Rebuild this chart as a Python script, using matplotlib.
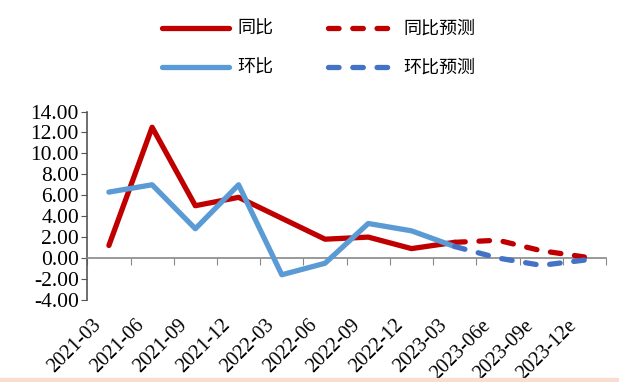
import matplotlib.pyplot as plt
import numpy as np
from matplotlib.lines import Line2D
from matplotlib.patches import Rectangle
from matplotlib.transforms import blended_transform_factory

plt.rcParams['font.family'] = ['Liberation Serif', 'Noto Sans CJK SC']

quarters = ['2021-03', '2021-06', '2021-09', '2021-12', '2022-03', '2022-06',
            '2022-09', '2022-12', '2023-03', '2023-06e', '2023-09e', '2023-12e']
# 同比 (actual up to 2023-03, forecast afterwards)
yoy = [1.2, 12.5, 5.0, 5.8, 3.8, 1.8, 2.0, 0.9, 1.5, 1.7, 0.7, 0.1]
# 环比
qoq = [6.3, 7.0, 2.8, 7.0, -1.6, -0.5, 3.3, 2.6, 1.1, 0.0, -0.7, -0.2]
n_actual = 9  # first 9 points are actual data

red = '#C00000'
blue = '#5B9BD5'
blue_fc = '#4472C4'
lw = 3.8
dash = (0, (2.0, 2.6))

fig = plt.figure(figsize=(6.19, 3.82), dpi=100)
ax = fig.add_axes([0.141, 0.215, 0.838, 0.493])

x = np.arange(len(quarters))
a = n_actual
ax.plot(x[:a], yoy[:a], color=red, lw=lw, solid_capstyle='round', zorder=3)
ax.plot(x[a - 1:], yoy[a - 1:], color=red, lw=lw, ls=dash,
        dash_capstyle='round', zorder=3)
ax.plot(x[:a], qoq[:a], color=blue, lw=lw, solid_capstyle='round', zorder=4)
ax.plot(x[a - 1:], qoq[a - 1:], color=blue_fc, lw=lw, ls=dash,
        dash_capstyle='round', zorder=4)

ax.set_xlim(-0.5, len(quarters) - 0.5)
ax.set_ylim(-4, 14)
ax.set_yticks(np.arange(-4, 15, 2))
ax.set_yticklabels(['%.2f' % v for v in np.arange(-4, 15, 2)], fontsize=15.5)

for s in ['top', 'right']:
    ax.spines[s].set_visible(False)
ax.spines['bottom'].set_position(('data', 0))
ax.spines['left'].set_color('#555555')
ax.spines['bottom'].set_color('#888888')
ax.spines['left'].set_linewidth(1.2)
ax.spines['bottom'].set_linewidth(1.2)
ax.tick_params(axis='y', direction='out', length=4, color='#555555', pad=2)
ax.set_xticks(np.arange(-0.5, len(quarters), 1.0))
ax.tick_params(axis='x', direction='out', length=5, color='#888888',
               labelbottom=False)

trans = blended_transform_factory(ax.transData, ax.transAxes)
for i, q in enumerate(quarters):
    ax.text(i - 0.4, -0.085, q, transform=trans, rotation=45, ha='right',
            va='top', rotation_mode='anchor', fontsize=14.5)

handles = [Line2D([], [], color=red, lw=lw, solid_capstyle='round'),
           Line2D([], [], color=blue, lw=lw, solid_capstyle='round'),
           Line2D([], [], color=red, lw=lw, ls=dash, dash_capstyle='round'),
           Line2D([], [], color=blue_fc, lw=lw, ls=dash, dash_capstyle='round')]
labels = ['同比', '环比', '同比预测', '环比预测']
fig.legend(handles, labels, ncol=2, loc='upper left',
           bbox_to_anchor=(0.235, 0.99), frameon=False,
           prop={'family': 'Noto Sans CJK SC', 'size': 13},
           handlelength=3.7, handletextpad=0.5, columnspacing=3.0,
           labelspacing=1.15)

fig.patches.append(Rectangle((0, 0), 1, 0.01, transform=fig.transFigure,
                             color='#F8DDD0', zorder=0))

fig.savefig('out.png', dpi=100)
